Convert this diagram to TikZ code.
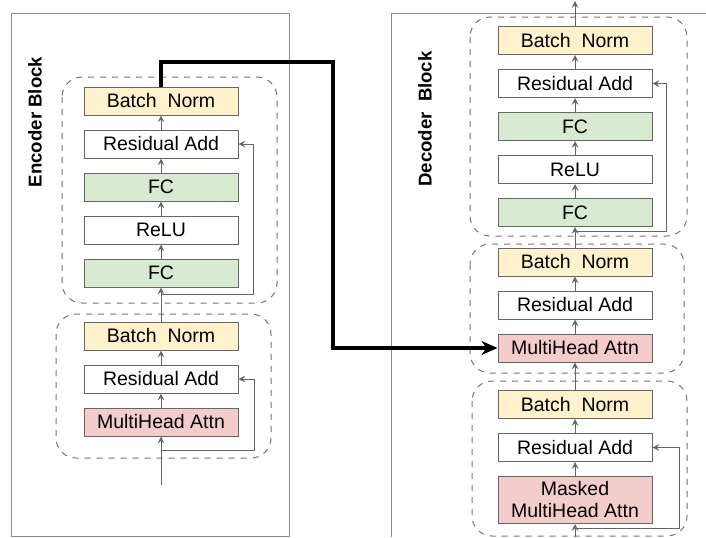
\documentclass[tikz,border=0pt]{standalone}
\usepackage{fontspec}
\setmainfont{Liberation Sans}
\usetikzlibrary{positioning, arrows, arrows.meta}
\definecolor{normfill}{HTML}{FFF2CC}
\definecolor{fcfill}{HTML}{D9EAD3}
\definecolor{attnfill}{HTML}{F4CCCC}
\definecolor{edge}{HTML}{666666}
\tikzstyle{layer} = [rectangle, draw=edge, line width=0.5pt, minimum width=77pt, minimum height=14pt, inner sep=0pt, text centered, fill=white, font=\fontsize{9.75}{11}\selectfont]
\tikzstyle{norm} = [layer, fill=normfill]
\tikzstyle{fc} = [layer, fill=fcfill]
\tikzstyle{attn} = [layer, fill=attnfill]
\tikzstyle{flow} = [draw=edge, line width=0.5pt, ->, >=stealth]
\tikzstyle{group} = [draw=edge!90, dashed, line width=0.5pt, rounded corners=10pt]
\tikzstyle{frame} = [draw=black!45, line width=0.5pt]
\tikzstyle{bridge} = [line width=1.6pt, -{Stealth[length=8pt, width=7pt, inset=2.5pt]}]
\tikzstyle{blocklabel} = [rotate=90, font=\fontsize{9.3}{11}\selectfont\bfseries]

\begin{document}
\begin{tikzpicture}[x=0.5pt, y=-0.5pt, node distance=7pt]
    \useasboundingbox (0,0) rectangle (706,537);

    % encoder side
    \draw [frame] (11,13) rectangle (289,536);
    \node (enclabel) [blocklabel] at (35,122) {Encoder Block};

    \node (encBN1) [norm] at (161,101) {Batch\ \ Norm};
    \node (encRA1) [layer, below=of encBN1] {Residual Add};
    \node (encFC2) [fc, below=of encRA1] {FC};
    \node (encReLU) [layer, below=of encFC2] {ReLU};
    \node (encFC1) [fc, below=of encReLU] {FC};

    \node (encBN2) [norm] at (161,336) {Batch\ \ Norm};
    \node (encRA2) [layer, below=of encBN2] {Residual Add};
    \node (encMH) [attn, below=of encRA2] {MultiHead Attn};

    \draw [group] (62,77) rectangle (277,303);
    \draw [group] (56,314) rectangle (271,458);

    \coordinate (encIn) at (161,485);
    \coordinate (encSkipB) at (161,450);
    \coordinate (encSkipA) at (161,294);

    \draw [flow] (encIn) -- (encMH.south);
    \draw [flow] (encMH) -- (encRA2);
    \draw [flow] (encRA2) -- (encBN2);
    \draw [flow] (encSkipB) -- ++(93,0) |- (encRA2.east);
    \draw [flow] (encBN2) -- (encFC1);
    \draw [flow] (encFC1) -- (encReLU);
    \draw [flow] (encReLU) -- (encFC2);
    \draw [flow] (encFC2) -- (encRA1);
    \draw [flow] (encRA1) -- (encBN1);
    \draw [flow] (encSkipA) -- ++(92,0) |- (encRA1.east);

    % decoder side
    \draw [frame] (391,537) -- (391,13) -- (706,13);
    \node (declabel) [blocklabel] at (425,119) {Decoder\ \ Block};

    \node (decBN1) [norm] at (575,40.5) {Batch\ \ Norm};
    \node (decRA1) [layer, below=of decBN1] {Residual Add};
    \node (decFC2) [fc, below=of decRA1] {FC};
    \node (decReLU) [layer, below=of decFC2] {ReLU};
    \node (decFC1) [fc, below=of decReLU] {FC};

    \node (decBN2) [norm] at (575,262) {Batch\ \ Norm};
    \node (decRA2) [layer, below=of decBN2] {Residual Add};
    \node (decMH) [attn, below=of decRA2] {MultiHead Attn};

    \node (decBN3) [norm] at (575,404.5) {Batch\ \ Norm};
    \node (decRA3) [layer, below=of decBN3] {Residual Add};
    \node (decMMH) [attn, below=of decRA3, minimum height=23.5pt, align=center] {Masked\\MultiHead Attn};

    \draw [group] (470,17) rectangle (687,236);
    \draw [group] (470,244) rectangle (684,373);
    \draw [group] (472,381) rectangle (687,536);

    \coordinate (decIn) at (575,537);
    \coordinate (decSkipB) at (575,528);
    \coordinate (decSkipA) at (575,231);
    \coordinate (decOut) at (575,1);

    \draw [flow] (decIn) -- (decMMH.south);
    \draw [flow] (decMMH) -- (decRA3);
    \draw [flow] (decRA3) -- (decBN3);
    \draw [flow] (decSkipB) -- ++(104,0) |- (decRA3.east);
    \draw [flow] (decBN3) -- (decMH);
    \draw [flow] (decMH) -- (decRA2);
    \draw [flow] (decRA2) -- (decBN2);
    \draw [flow] (decBN2) -- (decFC1);
    \draw [flow] (decFC1) -- (decReLU);
    \draw [flow] (decReLU) -- (decFC2);
    \draw [flow] (decFC2) -- (decRA1);
    \draw [flow] (decRA1) -- (decBN1);
    \draw [flow] (decSkipA) -- ++(91,0) |- (decRA1.east);
    \draw [flow] (decBN1) -- (decOut);

    % encoder output into the cross attention
    \coordinate (bend) at (333,62);
    \draw [bridge] (encBN1.north) |- (bend) |- (decMH.west);

\end{tikzpicture}
\end{document}
